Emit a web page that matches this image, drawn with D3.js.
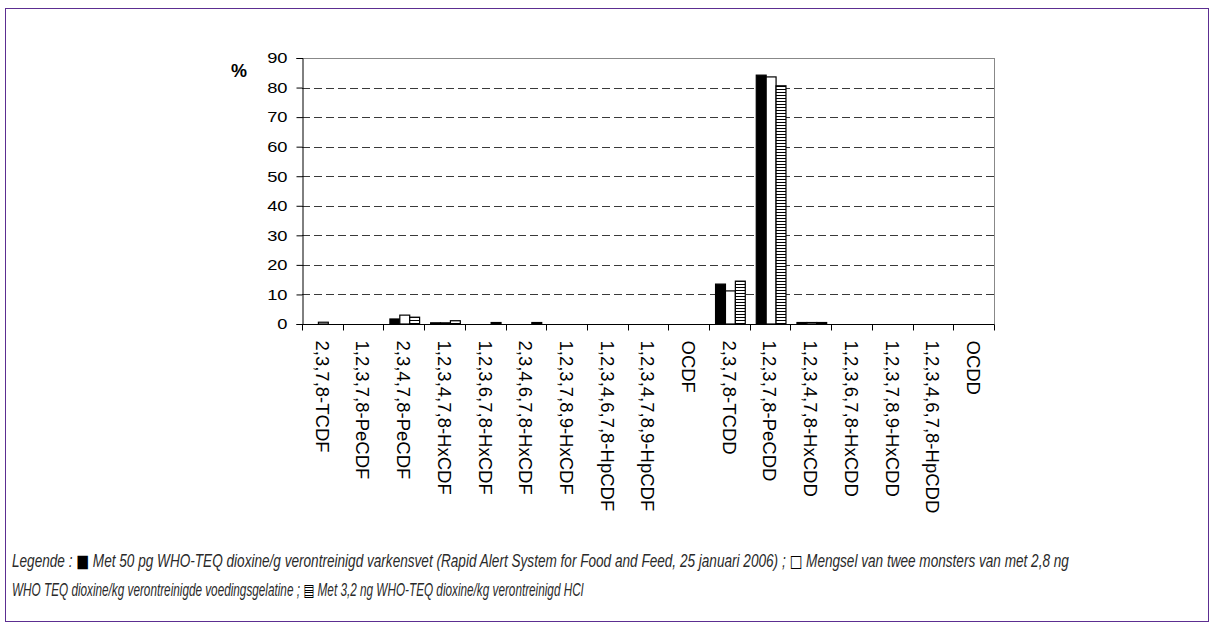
<!DOCTYPE html>
<html><head><meta charset="utf-8">
<script src="https://cdn.jsdelivr.net/npm/d3@7"></script>
<style>body{margin:0;background:#fff;}svg{display:block;}</style>
</head><body>
<script>
const categories = ["2,3,7,8-TCDF","1,2,3,7,8-PeCDF","2,3,4,7,8-PeCDF","1,2,3,4,7,8-HxCDF","1,2,3,6,7,8-HxCDF","2,3,4,6,7,8-HxCDF","1,2,3,7,8,9-HxCDF","1,2,3,4,6,7,8-HpCDF","1,2,3,4,7,8,9-HpCDF","OCDF","2,3,7,8-TCDD","1,2,3,7,8-PeCDD","1,2,3,4,7,8-HxCDD","1,2,3,6,7,8-HxCDD","1,2,3,7,8,9-HxCDD","1,2,3,4,6,7,8-HpCDD","OCDD"];
const seriesNames = ["varkensvet","gelatine","HCl"];
const varkensvet = [0,0,1.7,0.4,0,0,0,0,0,0,13.5,84.2,0.5,0,0,0,0];
const gelatine   = [0.6,0,3.0,0.4,0,0,0,0,0,0,11.2,83.6,0.5,0,0,0,0];
const hcl        = [0,0,2.3,1.1,0.5,0.5,0,0,0,0,14.5,80.6,0.5,0,0,0,0];
const yTicks = [0,10,20,30,40,50,60,70,80,90];
const legendLines = [
  "Legende : \u25A0 Met 50 pg WHO-TEQ dioxine/g verontreinigd varkensvet (Rapid Alert System for Food and Feed, 25 januari 2006) ; \u25A1 Mengsel van twee monsters van met 2,8 ng",
  "WHO TEQ dioxine/kg verontreinigde voedingsgelatine ; \u25A4 Met 3,2 ng WHO-TEQ dioxine/kg verontreinigd HCl"
];

(function(){
const W = 1216, H = 635;
const svg = d3.select("body").append("svg").attr("width", W).attr("height", H);
const sans = "'Liberation Sans', Arial, sans-serif";

const defs = svg.append("defs");
const pat = defs.append("pattern").attr("id","hatch").attr("patternUnits","userSpaceOnUse")
  .attr("width",4).attr("height",3);
pat.append("rect").attr("width",4).attr("height",3).attr("fill","#fff");
pat.append("rect").attr("y",2).attr("width",4).attr("height",1).attr("fill","#000");

// frame
svg.append("rect").attr("x",5.5).attr("y",8.5).attr("width",1203).attr("height",613)
  .attr("fill","none").attr("stroke","#5c2e91").attr("stroke-width",1);

const pL = 302, pR = 994, pT = 58, pB = 324;
const x = d3.scaleBand().domain(categories).range([pL, pR]).paddingInner(0).paddingOuter(0);
const inner = d3.scaleBand().domain(seriesNames).range([6, x.bandwidth()-5]).padding(0);
const y = d3.scaleLinear().domain([0,90]).range([pB, pT]);

// gridlines
svg.append("g").selectAll("line").data(yTicks.filter(d=>d>0 && d<90)).join("line")
  .attr("x1",pL).attr("x2",pR).attr("y1",d=>Math.round(y(d))+0.5).attr("y2",d=>Math.round(y(d))+0.5)
  .attr("stroke","#3a3a3a").attr("stroke-dasharray","8,4").attr("stroke-width",1);

// top & right border
svg.append("line").attr("x1",pL).attr("x2",pR).attr("y1",pT+0.5).attr("y2",pT+0.5).attr("stroke","#888");
svg.append("line").attr("x1",pR+0.5).attr("x2",pR+0.5).attr("y1",pT).attr("y2",pB).attr("stroke","#888");

// bars
const fills = ["#000","#fff","url(#hatch)"];
const seriesData = [varkensvet, gelatine, hcl];
seriesData.forEach((vals, si) => {
  svg.append("g").selectAll("rect").data(vals.map((v,i)=>({c:categories[i], v})).filter(d=>d.v>0))
    .join("rect")
    .attr("x", d => x(d.c) + inner(seriesNames[si]) + 0.5)
    .attr("y", d => y(d.v))
    .attr("width", inner.bandwidth())
    .attr("height", d => y(0) - y(d.v))
    .attr("fill", fills[si]).attr("stroke","#000").attr("stroke-width",1.2);
});

// y axis
const sx = 1.22;
const yAxis = svg.append("g").attr("transform",`translate(${pL+0.5},0)`)
  .call(d3.axisLeft(y).tickValues(yTicks).tickSize(6).tickPadding(8).tickFormat(d3.format("d")));
yAxis.select(".domain").attr("stroke","#000");
yAxis.selectAll("line").attr("stroke","#000");
yAxis.selectAll("text").attr("font-family",sans).attr("font-size",15).attr("fill","#000")
  .attr("x", -15/sx).attr("transform",`scale(${sx},1)`);

// x axis
const xAxis = svg.append("g").attr("transform",`translate(0,${pB+0.5})`)
  .call(d3.axisBottom(x).tickSize(0).tickPadding(0));
xAxis.select(".domain").attr("stroke","#000").attr("d",`M${pL},0H${pR+0.5}`);
xAxis.selectAll(".tick text")
  .attr("font-family",sans).attr("font-size",18.5).attr("fill","#000")
  .attr("transform","translate(0,16) rotate(90)").attr("x",0).attr("y",0).attr("dy","0.36em")
  .attr("text-anchor","start");
const bounds = categories.map(c=>x(c)).concat([pR]);
xAxis.append("g").selectAll("line").data(bounds).join("line")
  .attr("x1",d=>Math.round(d)+0.5).attr("x2",d=>Math.round(d)+0.5).attr("y1",0).attr("y2",6).attr("stroke","#000");

// % label
svg.append("text").attr("x",231).attr("y",77).attr("font-family",sans)
  .attr("font-weight","bold").attr("font-size",18).text("%");

// legend
const lg = svg.append("g").attr("font-family",sans)
  .attr("font-style","italic").attr("font-size",14).attr("fill","#2a2a2a");
const widths = [1058, 572];
const symRe = /([\u25A0\u25A1\u25A4])/;
legendLines.forEach((line, i) => {
  const t = lg.append("text").attr("x",0).attr("y",0);
  line.split(symRe).filter(s=>s.length).forEach(seg => {
    const isSym = seg.length === 1 && symRe.test(seg);
    const ts = t.append("tspan").text(seg);
    if (isSym) ts.attr("font-family","'DejaVu Sans', sans-serif").attr("font-style","normal")
      .attr("font-size",14).attr("fill","#000");
  });
  const L = t.node().getComputedTextLength();
  t.attr("transform",`translate(12,${567+i*29}) scale(${widths[i]/L},1.25)`);
});
})();
</script>
</body></html>
